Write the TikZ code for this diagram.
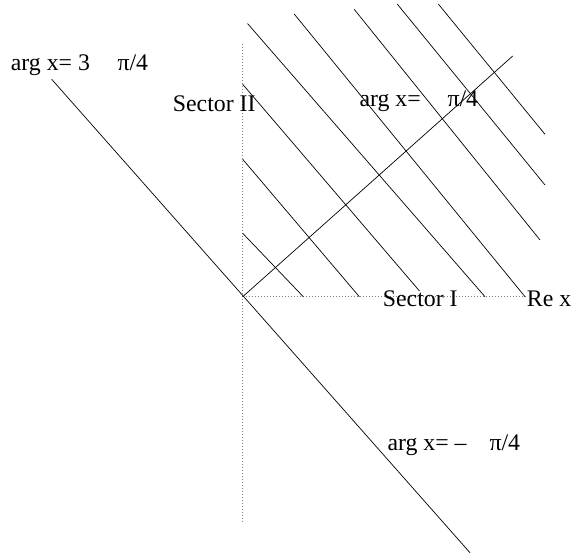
\documentclass[tikz,border=0pt]{standalone}
\usepackage{fontspec}
\setmainfont{Liberation Serif}
\begin{document}
\begin{tikzpicture}[x=1pt,y=-1pt,
  ln/.style={line width=0.7pt, black},
  axisln/.style={line width=0.8pt, gray, dash pattern=on 0.9pt off 2.1pt},
  lbl/.style={anchor=base west, inner sep=0pt, font=\fontsize{23.8}{28}\selectfont}]
\useasboundingbox (0,0) rectangle (572,558);
% axes
\coordinate (O) at (242.7,296.7);
\coordinate (Ytop) at (242.7,44);
\coordinate (Ybot) at (242.7,523);
\coordinate (Xend) at (525,296.7);
\draw[axisln] (Ytop) -- (Ybot);
\draw[axisln] (O) -- (Xend);
% rays
\coordinate (P1) at (512.7,56);
\coordinate (P3a) at (51.7,79.3);
\coordinate (P3b) at (470,552.7);
\draw[ln] (O) -- (P1);
\draw[ln] (P3a) -- (P3b);
% hatching
\coordinate (A1) at (242.7,233.3); \coordinate (A2) at (303.3,296.7);
\coordinate (B1) at (242.7,159.3); \coordinate (B2) at (359.3,296.7);
\coordinate (C1) at (242.7,84.3);  \coordinate (C2) at (419.5,291);
\coordinate (D1) at (247.5,23.5);  \coordinate (D2) at (485,296.7);
\coordinate (E1) at (294.2,14);    \coordinate (E2) at (525,296.7);
\coordinate (F1) at (354.2,9.3);   \coordinate (F2) at (540,240);
\coordinate (G1) at (397.2,4);     \coordinate (G2) at (545,185);
\coordinate (H1) at (438.3,4);     \coordinate (H2) at (545,134.3);
\foreach \p in {A,B,C,D,E,F,G,H} \draw[ln] (\p1) -- (\p2);
% labels
\node[lbl] (t1) at (10.7,70.7) {arg x= 3};
\node[lbl] (t1p) at (117.3,70.7) {π/4};
\node[lbl] (t2) at (172.7,111.7) {Sector II};
\node[lbl] (t3) at (359.3,106.7) {arg x=};
\node[lbl] (t3p) at (447.3,106.7) {π/4};
\node[lbl] (t4) at (382.7,306.7) {Sector I};
\node[lbl] (t5) at (526.7,306.7) {Re x};
\node[lbl] (t6) at (387.3,450) {arg x= –};
\node[lbl] (t6p) at (489.3,450) {π/4};
\end{tikzpicture}
\end{document}
